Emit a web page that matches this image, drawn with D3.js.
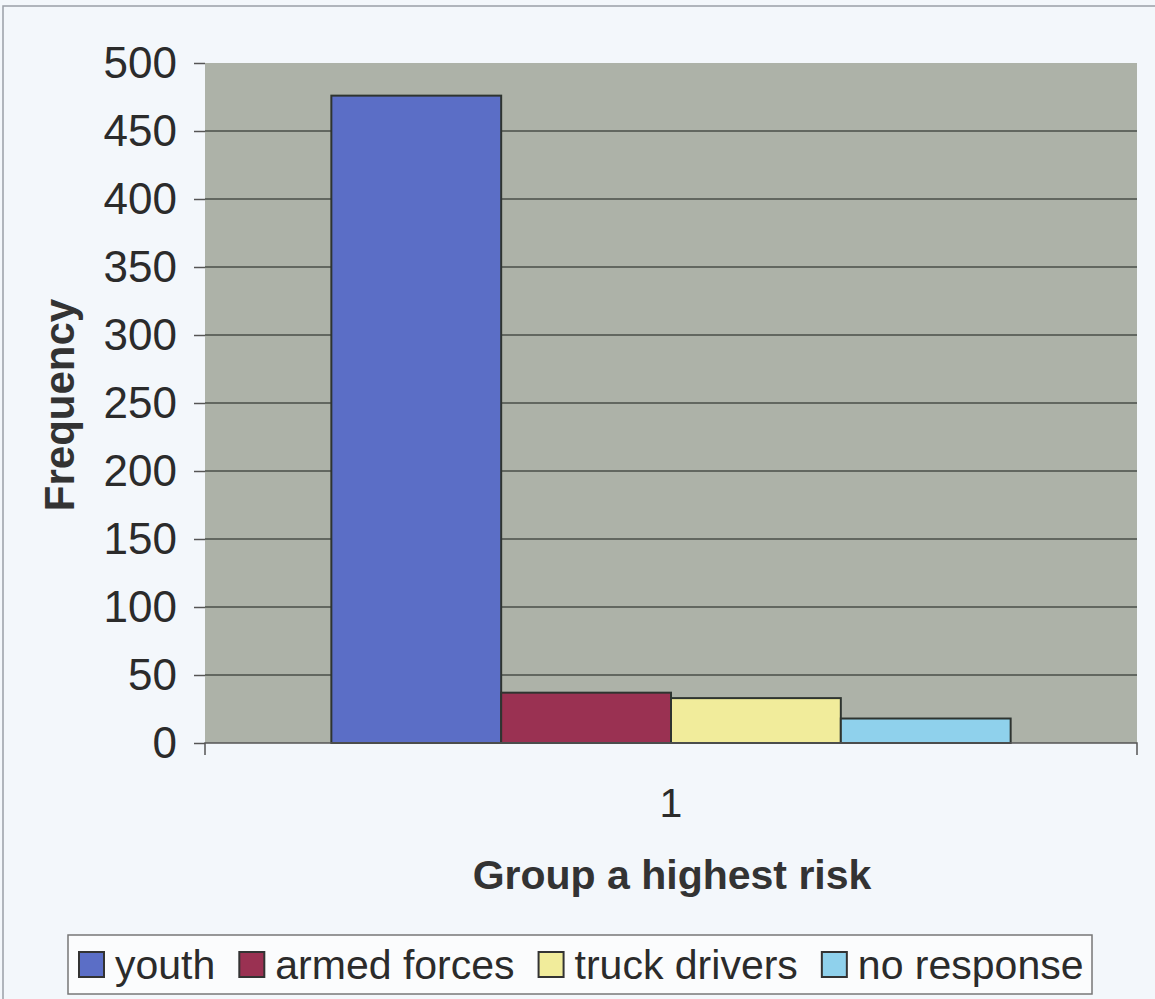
<!DOCTYPE html>
<html>
<head>
<meta charset="utf-8">
<script src="https://cdn.jsdelivr.net/npm/d3@7"></script>
<style>
  body { margin: 0; background: #f3f7fb; }
  svg { display: block; font-family: "Liberation Sans", Arial, sans-serif; }
</style>
</head>
<body>
<div id="chart"></div>
<script>
// data
var categories = ["1"];
var seriesNames = ["youth", "armed forces", "truck drivers", "no response"];
var seriesValues = [476, 37, 33, 18];
var seriesColors = ["#5b6ec6", "#9a3152", "#f1ec9b", "#8fd1ec"];
var yTicks = [0, 50, 100, 150, 200, 250, 300, 350, 400, 450, 500];

(function() {
  var W = 1155, H = 999;
  var margin = { top: 63, left: 205, right: 18, bottom: 256 },
      width = W - margin.left - margin.right,
      height = H - margin.top - margin.bottom;

  var svg = d3.select("#chart")
      .append("svg")
      .attr("width", W)
      .attr("height", H);

  // outer frame of the scanned page
  svg.append("rect")
      .attr("x", 3).attr("y", 6)
      .attr("width", W + 10).attr("height", H + 10)
      .attr("fill", "none")
      .attr("stroke", "#9aa0a8")
      .attr("stroke-width", 1.5)

  var container = svg.append("g")
      .attr("transform", "translate(" + margin.left + "," + margin.top + ")")

  var yScale = d3.scaleLinear()
      .domain([0, 500])
      .range([height, 0])

  var x0 = d3.scaleBand()
      .domain(categories)
      .range([0, width])
      .paddingInner(0)
      .paddingOuter(0.186)

  var x1 = d3.scaleBand()
      .domain(seriesNames)
      .range([0, x0.bandwidth()])
      .padding(0)

  // plot area
  container.append("rect")
      .attr("width", width)
      .attr("height", height)
      .attr("fill", "#adb2a8")

  // gridlines
  container.selectAll(".grid")
      .data(yTicks.filter(function(d) { return d > 0 && d < 500 }))
      .enter().append("line")
      .attr("class", "grid")
      .attr("x1", 0).attr("x2", width)
      .attr("y1", function(d) { return yScale(d) })
      .attr("y2", function(d) { return yScale(d) })
      .attr("stroke", "#4a4e49")
      .attr("stroke-width", 1.5)

  // y axis
  var yAxis = container.append("g")
      .call(d3.axisLeft(yScale).tickValues(yTicks).tickSize(11).tickPadding(17))
  yAxis.select(".domain").remove()
  yAxis.selectAll(".tick line").attr("stroke", "#555").attr("stroke-width", 1.5)
  yAxis.selectAll("text")
      .attr("font-size", "44px")
      .attr("font-family", "Liberation Sans, Arial, sans-serif")
      .attr("fill", "#2b2b2b")

  // bars
  container.selectAll(".group")
      .data(categories)
      .enter().append("g")
      .attr("class", "group")
      .attr("transform", function(d) { return "translate(" + x0(d) + ",0)" })
      .each(function(cat, ci) {
        d3.select(this).selectAll("rect")
          .data(seriesNames)
          .enter().append("rect")
          .attr("x", function(d) { return x1(d) })
          .attr("y", function(d, i) { return yScale(seriesValues[i]) })
          .attr("width", x1.bandwidth())
          .attr("height", function(d, i) { return height - yScale(seriesValues[i]) })
          .attr("fill", function(d, i) { return seriesColors[i] })
          .attr("stroke", "#2e3430")
          .attr("stroke-width", 2)
      })

  // x axis
  var xAxis = container.append("g")
      .attr("transform", "translate(0," + height + ")")
      .call(d3.axisBottom(x0).tickSize(0).tickPadding(45))
  xAxis.select(".domain").attr("stroke", "#555").attr("stroke-width", 1.5)
      .attr("d", "M0,12V0H" + width + "V12")
  xAxis.selectAll("text")
      .attr("font-size", "41px")
      .attr("font-family", "Liberation Sans, Arial, sans-serif")
      .attr("fill", "#2b2b2b")

  // axis titles
  svg.append("text")
      .text("Frequency")
      .attr("transform", "translate(74," + (margin.top + height / 2 + 2) + ") rotate(-90)")
      .attr("text-anchor", "middle")
      .attr("font-size", "42px")
      .attr("font-weight", "bold")
      .attr("fill", "#333")

  svg.append("text")
      .text("Group a highest risk")
      .attr("x", margin.left + width / 2 + 1)
      .attr("y", 889)
      .attr("text-anchor", "middle")
      .attr("font-size", "41px")
      .attr("font-weight", "bold")
      .attr("fill", "#333")

  // legend
  var legend = svg.append("g")
  legend.append("rect")
      .attr("x", 68).attr("y", 935)
      .attr("width", 1024).attr("height", 59)
      .attr("fill", "#fbfcfd")
      .attr("stroke", "#777")
      .attr("stroke-width", 1.5)

  var lx = 79
  seriesNames.forEach(function(name, i) {
    legend.append("rect")
        .attr("x", lx).attr("y", 952)
        .attr("width", 25).attr("height", 25)
        .attr("fill", seriesColors[i])
        .attr("stroke", "#333")
        .attr("stroke-width", 2)
    var t = legend.append("text")
        .text(name)
        .attr("x", lx + 36)
        .attr("y", 979)
        .attr("font-size", "41px")
        .attr("fill", "#2b2b2b")
    lx = lx + 36 + t.node().getComputedTextLength() + 24
  })
})();
</script>
</body>
</html>
